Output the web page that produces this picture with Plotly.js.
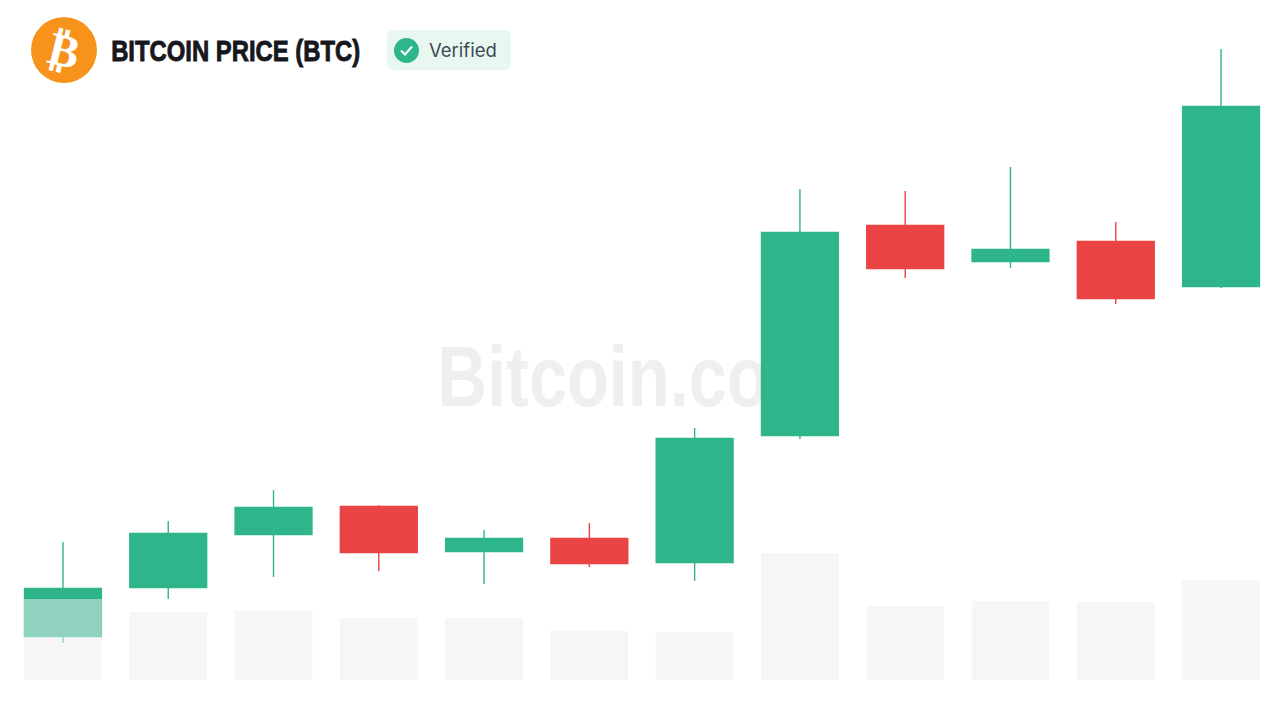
<!DOCTYPE html>
<html>
<head>
<meta charset="utf-8">
<script src="https://cdn.plot.ly/plotly-3.0.1.min.js"></script>
<style>html,body{margin:0;padding:0;background:#fff}#chart{width:1280px;height:720px}</style>
</head>
<body>
<div id="chart"></div>
<script>
// 값은 그림에서 읽은 높이(기준선 위 px 단위). 축이 없어서 실제 가격은 알 수 없음.
const periods = [0, 1, 2, 3, 4, 5, 6, 7, 8, 9, 10, 11];
const opens  = [43.5, 92.5, 145.5, 173.5, 128.5, 141.5, 117.5, 244.5, 454.5, 418.5, 438.5, 393.5];
const closes = [91.5, 146.5, 172.5, 127.5, 141.5, 116.5, 241.5, 447.5, 411.5, 430.5, 381.5, 573.5];
const highs  = [138, 159, 190, 175, 150, 157, 252, 491, 489, 513, 458, 631];
const lows   = [37, 81, 103, 109, 96, 113, 99, 241, 402, 412, 376, 392];
const volumes = [81, 68, 69, 62, 62, 49, 48, 127, 74, 79, 78, 100];

const GREEN = '#2fb58b', RED = '#ea4343';
const W = 1280, H = 720;
const px = (x) => x / W;
const py = (y) => 1 - y / H;

const hidden = (extra) => ({ visible: false, fixedrange: true, ...extra });
const xr = [-0.598, 11.56], yr = [-40, 680];

// 워터마크는 캔들 아래에 깔려야 해서 x/y 가 맨 밑, 캔들 x2/y2, 거래량 x3/y3
const traces = [
  {
    type: 'scatter', mode: 'text', x: [5.42], y: [296], text: ['Bitcoin.com'], xaxis: 'x', yaxis: 'y',
    textposition: 'middle center', hoverinfo: 'skip', showlegend: false,
    textfont: { family: '"Liberation Sans", sans-serif', size: 86, weight: 700, color: '#efefef' },
  },
  {
    type: 'candlestick', x: periods, open: opens, close: closes, high: highs, low: lows, xaxis: 'x2', yaxis: 'y2',
    increasing: { line: { color: GREEN, width: 1.4 }, fillcolor: GREEN },
    decreasing: { line: { color: RED, width: 1.4 }, fillcolor: RED },
    whiskerwidth: 0, showlegend: false,
  },
  {
    type: 'bar', x: periods, y: volumes, width: 0.74, xaxis: 'x3', yaxis: 'y3',
    marker: { color: 'rgba(237,237,241,0.51)', line: { width: 0 } }, showlegend: false,
  },
];

const badge = (x0, y0, x1, y1, r) =>
  `M${px(x0 + r)},${py(y0)} L${px(x1 - r)},${py(y0)} Q${px(x1)},${py(y0)} ${px(x1)},${py(y0 + r)} ` +
  `L${px(x1)},${py(y1 - r)} Q${px(x1)},${py(y1)} ${px(x1 - r)},${py(y1)} L${px(x0 + r)},${py(y1)} ` +
  `Q${px(x0)},${py(y1)} ${px(x0)},${py(y1 - r)} L${px(x0)},${py(y0 + r)} Q${px(x0)},${py(y0)} ${px(x0 + r)},${py(y0)} Z`;

const layout = {
  width: W, height: H, margin: { l: 0, r: 0, t: 0, b: 0 },
  paper_bgcolor: '#fff', plot_bgcolor: 'rgba(0,0,0,0)', showlegend: false, boxgap: 0.27, boxgroupgap: 0,
  hovermode: false, dragmode: false,
  xaxis: hidden({ range: xr, type: 'linear', rangeslider: { visible: false } }),
  yaxis: hidden({ range: yr }),
  xaxis2: hidden({ range: xr, type: 'linear', overlaying: 'x', rangeslider: { visible: false } }),
  yaxis2: hidden({ range: yr, overlaying: 'y' }),
  xaxis3: hidden({ range: xr, type: 'linear', overlaying: 'x' }),
  yaxis3: hidden({ range: yr, overlaying: 'y' }),
  shapes: [
    { type: 'circle', xref: 'paper', yref: 'paper', x0: px(31), x1: px(97), y0: py(17), y1: py(83), fillcolor: '#f7931a', line: { width: 0 } },
    { type: 'path', xref: 'paper', yref: 'paper', path: badge(387, 30, 511, 70, 7), fillcolor: '#e8f7ef', line: { width: 0 } },
    { type: 'circle', xref: 'paper', yref: 'paper', x0: px(394), x1: px(419), y0: py(38), y1: py(63), fillcolor: GREEN, line: { width: 0 } },
    { type: 'path', xref: 'paper', yref: 'paper', path: `M${px(401)},${py(50.5)} L${px(405)},${py(54.5)} L${px(412)},${py(46.5)}`, line: { color: '#fff', width: 2 } },
  ],
  annotations: [
    { xref: 'paper', yref: 'paper', x: px(64), y: py(50), text: '₿', showarrow: false, textangle: 14, xanchor: 'center', yanchor: 'middle',
      font: { family: 'DejaVu Sans', size: 46, weight: 700, color: '#fff' } },
    { xref: 'paper', yref: 'paper', x: px(235.5), y: py(51), text: 'BITCOIN PRICE (BTC)', showarrow: false, xanchor: 'center', yanchor: 'middle',
      font: { family: '"Liberation Sans", sans-serif', size: 30, weight: 700, color: '#16181d' } },
    { xref: 'paper', yref: 'paper', x: px(427), y: py(50), text: 'Verified', showarrow: false, xanchor: 'left', yanchor: 'middle',
      font: { family: 'Inter, sans-serif', size: 18.5, color: '#3f4a55' } },
  ],
};

// 설치된 폰트에 condensed 가 없어서 렌더 후 textLength 로 글자 폭을 좁힘
const squeeze = (el, len) => {
  el.setAttribute('textLength', len);
  el.setAttribute('lengthAdjust', 'spacingAndGlyphs');
};

Plotly.newPlot('chart', traces, layout, { displayModeBar: false, staticPlot: true }).then((gd) => {
  squeeze(gd.querySelector('.textpoint text'), 392);
  const title = [...gd.querySelectorAll('.annotation-text')].find((t) => t.textContent.startsWith('BITCOIN'));
  squeeze(title, 249);
  title.style.stroke = '#16181d';
  title.style.strokeWidth = '0.9px';
});
</script>
</body>
</html>
